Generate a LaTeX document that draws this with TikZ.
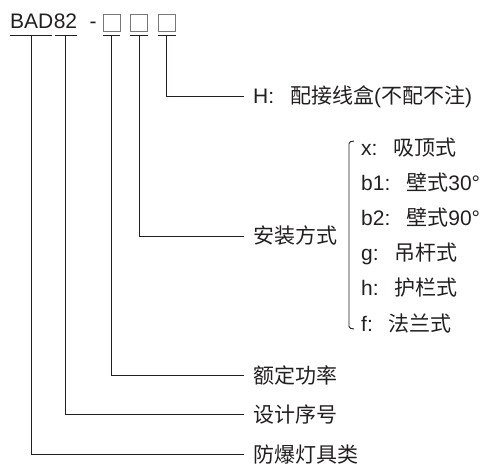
\documentclass[tikz,border=0pt]{standalone}
\usepackage{fontspec}
\setmainfont{Liberation Sans}
\newfontfamily\cjkfont{Noto Sans CJK SC}
\newcommand{\zhtext}[1]{{\cjkfont #1}}
\newcommand{\gapcolon}{:\hspace{16pt}}
\usepackage{tikz}
\usetikzlibrary{positioning}
\definecolor{inkgray}{RGB}{35,31,32}
\definecolor{slotgray}{RGB}{120,120,120}

\begin{document}
\begin{tikzpicture}[x=1pt, y=-1pt,
	every node/.style={font=\fontsize{21}{25}\selectfont, text=inkgray},
	% Phần mã ở dòng đầu
	code_part/.style={inner sep=0pt, text height=15pt, text depth=6pt},
	% Ô trống cần điền
	slot_box/.style={draw=slotgray, line width=0.7pt, minimum size=17pt, inner sep=0pt},
	under_line/.style={draw=inkgray, line width=0.9pt},
	conn_line/.style={draw=inkgray, line width=0.9pt},
	% Nhãn giải thích bên phải
	desc_label/.style={anchor=west, inner xsep=9pt, inner ysep=0pt, text height=16pt, text depth=0pt},
	opt_label/.style={anchor=west, inner sep=0pt, text height=16pt, text depth=0pt}
	]
	\useasboundingbox (0,0) rectangle (485,465);
	
	% Dòng mã BAD82 - ...
	\node[code_part, anchor=base west] (bad) at (10,29) {BAD};
	\node[code_part, right=0pt of bad] (num) {82};
	\node[code_part, right=12pt of num] (dash) {-};
	\node[slot_box] (s1) at (111.5,22.5) {};
	\node[slot_box, right=10pt of s1] (s2) {};
	\node[slot_box, right=10pt of s2] (s3) {};
	
	% Gạch dưới
	\draw[under_line, shorten >=1.2pt] (bad.south west) -- (bad.south east);
	\draw[under_line, shorten <=1.8pt] (num.south west) -- (num.south east);
	\draw[under_line] (s1.south west |- bad.south) -- (s1.south east |- bad.south);
	\draw[under_line] (s2.south west |- bad.south) -- (s2.south east |- bad.south);
	\draw[under_line] (s3.south west |- bad.south) -- (s3.south east |- bad.south);
	\coordinate (p1) at (s1.south |- bad.south);
	\coordinate (p2) at (s2.south |- bad.south);
	\coordinate (p3) at (s3.south |- bad.south);
	
	% Các nhãn giải thích
	\node[desc_label] (l_box) at (244,96) {H\gapcolon\zhtext{配接线盒}(\zhtext{不配不注})};
	\node[desc_label] (l_mount) at (244,236) {\zhtext{安装方式}};
	\node[desc_label] (l_power) at (244,375) {\zhtext{额定功率}};
	\node[desc_label] (l_serial) at (244,414) {\zhtext{设计序号}};
	\node[desc_label] (l_type) at (244,454) {\zhtext{防爆灯具类}};
	
	% Các kiểu lắp đặt
	\node[opt_label] (o_x) at (361,148) {x\gapcolon\zhtext{吸顶式}};
	\node[opt_label] (o_b1) at (361,183) {b1\gapcolon\zhtext{壁式}30°};
	\node[opt_label] (o_b2) at (361,218) {b2\gapcolon\zhtext{壁式}90°};
	\node[opt_label] (o_g) at (361,253) {g\gapcolon\zhtext{吊杆式}};
	\node[opt_label] (o_h) at (361,288) {h\gapcolon\zhtext{护栏式}};
	\node[opt_label] (o_f) at (361,323) {f\gapcolon\zhtext{法兰式}};
	\draw[conn_line, rounded corners=1.5pt] (354,141) -- (349,142) -- (349,328) -- (354,329);
	
	% Đường nối
	\draw[conn_line] (p3) |- (l_box.west);
	\draw[conn_line] (p2) |- (l_mount.west);
	\draw[conn_line] (p1) |- (l_power.west);
	\draw[conn_line] (num.south) |- (l_serial.west);
	\draw[conn_line] (bad.south) |- (l_type.west);
	
\end{tikzpicture}
\end{document}
